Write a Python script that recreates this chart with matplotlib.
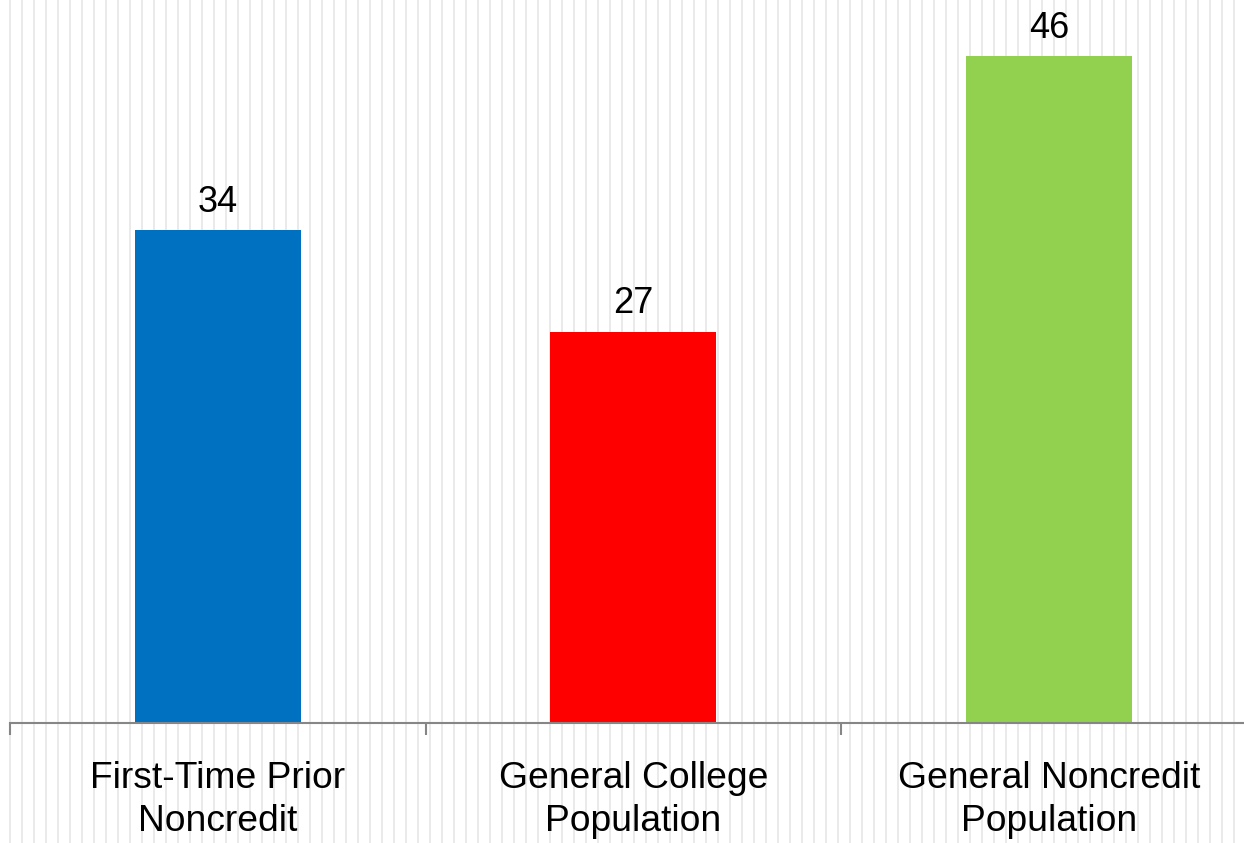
import numpy as np
import matplotlib.pyplot as plt

plt.rcParams["font.family"] = ["Liberation Sans", "DejaVu Sans"]

categories = ["First-Time Prior\nNoncredit", "General College\nPopulation", "General Noncredit\nPopulation"]
values = [34, 27, 46]
colors = ["#0070C0", "#FF0000", "#92D050"]

W, H = 1244, 843
fig = plt.figure(figsize=(W / 100, H / 100), dpi=100)

# striped background over the whole picture
bg = fig.add_axes([0, 0, 1, 1], zorder=0)
bg.set_xlim(0, W)
bg.set_ylim(0, H)
bg.axis("off")
bg.vlines(np.arange(9.5, W, 12), 0, H, color="#e4e4e4", lw=1.1)

ax = fig.add_axes([10 / W, 120 / H, 1246.5 / W, 725 / H], zorder=1)
ax.patch.set_alpha(0)
x = np.arange(len(values))
bars = ax.bar(x, values, width=0.4, color=colors)
ax.set_xlim(-0.5, 2.5)
ax.set_ylim(0, 50)

for b, v in zip(bars, values):
    ax.annotate(str(v), (b.get_x() + b.get_width() / 2, v), xytext=(0, 13),
                textcoords="offset points", ha="center", va="baseline", fontsize=26)

for s in ["top", "right", "left"]:
    ax.spines[s].set_visible(False)
ax.spines["bottom"].set_color("#868686")
ax.spines["bottom"].set_linewidth(1.5)

ax.set_xticks([-0.5, 0.5, 1.5, 2.5])
ax.set_xticklabels([])
ax.tick_params(axis="x", which="major", length=8.6, width=1.5, color="#868686")
ax.set_xticks(x, minor=True)
ax.set_xticklabels(categories, minor=True, fontsize=26.8, linespacing=1.3)
ax.tick_params(axis="x", which="minor", length=0, pad=27.5)
ax.set_yticks([])

fig.savefig("out.png", dpi=100)
